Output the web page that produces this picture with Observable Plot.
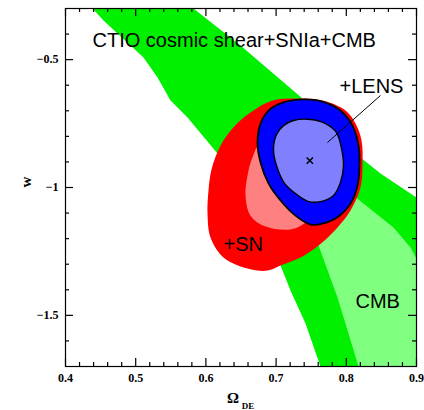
<!DOCTYPE html>
<html><head><meta charset="utf-8">
<script src="https://cdn.jsdelivr.net/npm/d3@7"></script>
<script src="https://cdn.jsdelivr.net/npm/@observablehq/plot@0.6"></script>
<style>body{margin:0;background:#fff}</style>
</head><body><div id="chart"></div>
<script>
// Contours in (Omega_DE, w)
const cmb2 = [[0.4214,-0.251],[0.5638,-0.257],[0.5823,-0.300],[0.6493,-0.445],[0.7376,-0.652],[0.8202,-0.883],[0.8487,-0.945],[0.9000,-1.039],[0.9200,-1.082],[0.9200,-1.755],[0.7704,-1.755],[0.7632,-1.700],[0.7419,-1.532],[0.7205,-1.403],[0.7063,-1.305],[0.6635,-1.090],[0.6208,-0.883],[0.6094,-0.844],[0.5738,-0.726],[0.5496,-0.660],[0.5311,-0.570],[0.5111,-0.492],[0.4541,-0.347],[0.4385,-0.300]];
const cmb1 = [[0.8103,-1.031],[0.8672,-1.156],[0.8915,-1.235],[0.9000,-1.278],[0.9128,-1.344],[0.9128,-1.755],[0.8202,-1.755],[0.8174,-1.700],[0.7875,-1.430],[0.7604,-1.227],[0.7704,-1.110]];
const sn2 = [[0.7276,-0.652],[0.7661,-0.660],[0.7989,-0.699],[0.8131,-0.750],[0.8217,-0.816],[0.8231,-0.914],[0.8202,-1.000],[0.8060,-1.090],[0.7875,-1.156],[0.7604,-1.227],[0.7348,-1.274],[0.7063,-1.305],[0.6877,-1.325],[0.6593,-1.317],[0.6251,-1.274],[0.6066,-1.196],[0.6023,-1.102],[0.6037,-1.012],[0.6080,-0.930],[0.6208,-0.836],[0.6379,-0.769],[0.6635,-0.707],[0.6949,-0.660]];
const sn1 = [[0.6778,-0.828],[0.6664,-0.882],[0.6593,-0.953],[0.6564,-1.031],[0.6635,-1.110],[0.6849,-1.153],[0.7205,-1.164],[0.7419,-1.137],[0.7632,-1.051],[0.7632,-0.894],[0.7205,-0.816]];
const lens2 = [[0.7348,-0.656],[0.7661,-0.664],[0.7917,-0.699],[0.8088,-0.758],[0.8174,-0.836],[0.8188,-0.914],[0.8160,-0.992],[0.8060,-1.063],[0.7889,-1.113],[0.7661,-1.141],[0.7490,-1.145],[0.7276,-1.110],[0.7063,-1.051],[0.6892,-0.984],[0.6778,-0.902],[0.6735,-0.824],[0.6778,-0.750],[0.6892,-0.699],[0.7091,-0.668]];
const lens1 = [[0.7248,-0.738],[0.7490,-0.734],[0.7704,-0.750],[0.7860,-0.785],[0.7932,-0.848],[0.7960,-0.914],[0.7917,-0.980],[0.7818,-1.031],[0.7632,-1.055],[0.7462,-1.055],[0.7291,-1.027],[0.7120,-0.984],[0.7020,-0.926],[0.6963,-0.855],[0.7006,-0.793],[0.7105,-0.758]];
const bestFit = [[0.748,-0.895]];
const leader = [{x1:0.7732,y1:-0.824,x2:0.8487,y2:-0.640}];

const labels = [
  {text:"CTIO cosmic shear+SNIa+CMB", x:0.4385, y:-0.4525},
  {text:"+LENS", x:0.7903, y:-0.6285},
  {text:"+SN", x:0.6251, y:-1.2464},
  {text:"CMB", x:0.8131, y:-1.4693}
];

const xMajor = [0.4,0.5,0.6,0.7,0.8,0.9];
const xTickLabels = ["0.4","0.5","0.6","0.7","0.8","0.9"];
const yMajor = [-0.5,-1,-1.5];
const yTickLabels = ["\u22120.5","\u22121","\u22121.5"];
const xMinor = d3.range(0.42,0.9,0.02).filter(v => Math.abs(v*10 - Math.round(v*10)) > 1e-6);
const yMinor = [-0.4,-0.6,-0.7,-0.8,-0.9,-1.1,-1.2,-1.3,-1.4,-1.6];

const W=424,H=410,mL=65,mR=8,mT=8,mB=44;
const iH = H-mT-mB, iW = W-mL-mR;
const xl = new Map(xMajor.map((v,i)=>[v,xTickLabels[i]]));
const yl = new Map(yMajor.map((v,i)=>[v,yTickLabels[i]]));

const poly = (data, fill, extra={}) => Plot.line(data, {x: d=>d[0], y: d=>d[1], fill, stroke: "none", curve: "catmull-rom-closed", clip: true, ...extra});

const chart = Plot.plot({
  width: W, height: H,
  marginLeft: mL, marginRight: mR, marginTop: mT, marginBottom: mB,
  x: {domain: [0.4, 0.9]},
  y: {domain: [-1.7, -0.3]},
  style: {background: "white"},
  marks: [
    poly(cmb2, "#00f000", {curve: "linear-closed"}),
    poly(cmb1, "#80ff80", {curve: "linear-closed"}),
    poly(sn2, "#ff0000"),
    poly(sn1, "#ff8080"),
    poly(lens2, "#0000ff", {stroke: "black", strokeWidth: 1.8}),
    poly(lens1, "#8080ff", {stroke: "black", strokeWidth: 1.4}),
    Plot.dot(bestFit, {x: d=>d[0], y: d=>d[1], symbol: "times", r: 3, stroke: "black", strokeWidth: 1.5}),
    Plot.link(leader, {x1:"x1", y1:"y1", x2:"x2", y2:"y2", stroke: "black", strokeWidth: 1}),
    Plot.text(labels, {x:"x", y:"y", text:"text", textAnchor: "start", lineAnchor: "bottom", fontSize: 20, fontFamily: "Liberation Sans", fill: "black"}),
    Plot.frame({stroke: "black", strokeWidth: 1.2}),
    // ticks (inward) on all four sides
    Plot.ruleX(xMajor, {x: d=>d, insetTop: iH-8, stroke: "black", strokeWidth: 1.2}),
    Plot.ruleX(xMinor, {x: d=>d, insetTop: iH-4, stroke: "black", strokeWidth: 1.2}),
    Plot.ruleX(xMajor, {x: d=>d, insetBottom: iH-8, stroke: "black", strokeWidth: 1.2}),
    Plot.ruleX(xMinor, {x: d=>d, insetBottom: iH-4, stroke: "black", strokeWidth: 1.2}),
    Plot.ruleY(yMajor, {y: d=>d, insetRight: iW-8, stroke: "black", strokeWidth: 1.2}),
    Plot.ruleY(yMinor, {y: d=>d, insetRight: iW-4, stroke: "black", strokeWidth: 1.2}),
    Plot.ruleY(yMajor, {y: d=>d, insetLeft: iW-8, stroke: "black", strokeWidth: 1.2}),
    Plot.ruleY(yMinor, {y: d=>d, insetLeft: iW-4, stroke: "black", strokeWidth: 1.2}),
    Plot.axisX({ticks: xMajor, tickSize: 0, tickPadding: 7, tickFormat: d=>xl.get(d), label: null, fontSize: 12, fontWeight: "bold", fontFamily: "Liberation Serif"}),
    Plot.axisY({ticks: yMajor, tickSize: 0, tickPadding: 7, tickFormat: d=>yl.get(d), label: null, fontSize: 12, fontWeight: "bold", fontFamily: "Liberation Serif"}),
    Plot.text(["w"], {frameAnchor: "left", dx: -39, rotate: -90, text: d=>d, fontSize: 15, fontWeight: "bold", fontFamily: "Liberation Serif"}),
    Plot.text(["\u03A9"], {frameAnchor: "bottom", dx: -8, dy: 36, lineAnchor: "bottom", text: d=>d, fontSize: 15, fontWeight: "bold", fontFamily: "Liberation Serif"}),
    Plot.text(["DE"], {frameAnchor: "bottom", dx: 7, dy: 42, lineAnchor: "bottom", text: d=>d, fontSize: 9, fontWeight: "bold", fontFamily: "Liberation Serif"})
  ]
});
document.getElementById("chart").appendChild(chart);
</script>
</body></html>
